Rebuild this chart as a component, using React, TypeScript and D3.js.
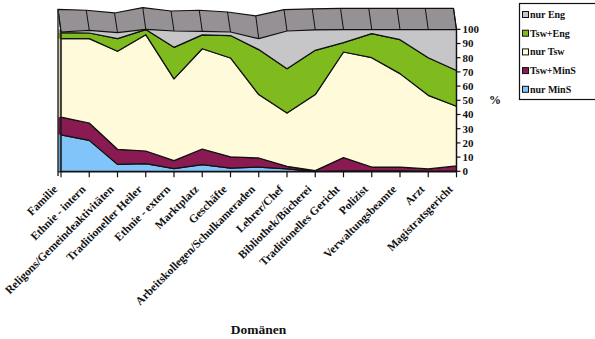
import React from "react";
import * as d3 from "d3";

const categories = [
  "Familie",
  "Ethnie - intern",
  "Religons/Gemeindeaktivitäten",
  "Traditioneller Heiler",
  "Ethnie - extern",
  "Marktplatz",
  "Geschäfte",
  "Arbeitskollegen/Schulkameraden",
  "Lehrer/Chef",
  "Bibliothek/Bücherei",
  "Traditionelles Gericht",
  "Polizist",
  "Verwaltungsbeamte",
  "Arzt",
  "Magistratsgericht",
];

const nurMinS = [25.7, 21.8, 4.9, 5.4, 1.9, 4.7, 2.3, 3.0, 1.7, 0, 0.3, 0.3, 0.3, 0.2, 0.2];
const tswMinS = [12.5, 12.2, 10.6, 8.9, 5.6, 11.0, 7.9, 6.4, 1.8, 0.5, 9.3, 2.7, 2.7, 1.5, 3.6];
const nurTsw = [55.2, 59.4, 69.0, 81.9, 57.6, 70.6, 69.6, 44.6, 37.5, 53.5, 74.4, 77.0, 65.8, 51.8, 42.0];
const tswEng = [4.2, 4.0, 8.9, 3.6, 22.2, 9.8, 15.8, 31.7, 31.3, 31.2, 6.6, 17.0, 23.9, 26.5, 25.2];
const nurEng = [2.4, 2.6, 6.6, 0.2, 12.7, 3.9, 4.4, 14.3, 27.7, 14.8, 9.4, 3.0, 7.3, 20.0, 29.0];

// 3D rim of the stack (top surface), in value units
const rimFront = [98.1, 99.3, 97.7, 100, 98.8, 98.6, 98.1, 93.4, 98.8, 99.6, 99.8, 99.8, 99.8, 99.8, 99.8];
const rimBack = [114.1, 113.4, 111.5, 115.3, 112.9, 113.4, 112.2, 109.4, 113.9, 114.4, 114.8, 114.8, 114.8, 114.8, 114.8];

const yTicks = [0, 10, 20, 30, 40, 50, 60, 70, 80, 90, 100];

const seriesNames = ["nur MinS", "Tsw+MinS", "nur Tsw", "Tsw+Eng", "nur Eng"];
const seriesData = [nurMinS, tswMinS, nurTsw, tswEng, nurEng];
const seriesColors = ["#80C4FA", "#8A1A52", "#FFFADA", "#7FBA1E", "#C6C5C8"];
const legendOrder = [4, 3, 2, 1, 0];

const FONT = "'Liberation Serif', 'Times New Roman', serif";

export default function App() {
  const W = 595;
  const H = 339;
  const x = d3.scalePoint<string>().domain(categories).range([61, 456.5]);
  const y = d3.scaleLinear().domain([0, 100]).range([171.3, 29.3]);

  const rows = categories.map((c, i) => {
    const r: any = { cat: c };
    seriesNames.forEach((s, k) => (r[s] = seriesData[k][i]));
    return r;
  });
  const stacked = d3.stack<any>().keys(seriesNames)(rows);
  const area = d3
    .area<any>()
    .x((d) => x(d.data.cat)!)
    .y0((d) => y(d[0]))
    .y1((d) => y(d[1]));

  const depthX = -3;
  const front = categories.map((c, i) => [x(c)!, y(rimFront[i])] as [number, number]);
  const back = categories.map((c, i) => [x(c)! + depthX, y(rimBack[i])] as [number, number]);
  const rimPath =
    "M" +
    back.map((p) => p.join(",")).join("L") +
    "L" +
    front
      .slice()
      .reverse()
      .map((p) => p.join(","))
      .join("L") +
    "Z";

  const x0 = x(categories[0])!;
  const xN = x(categories[categories.length - 1])!;

  return (
    <svg width={W} height={H} style={{ display: "block", position: "absolute", left: 0, top: 0 }}>
      <rect x={0} y={0} width={W} height={H} fill="#fff" />
      {stacked.map((s, k) => (
        <rect
          key={"lf" + k}
          x={x0 + depthX}
          y={y(s[0][1])}
          width={-depthX}
          height={Math.max(0, y(s[0][0]) - y(s[0][1]))}
          fill={d3.color(seriesColors[k])!.darker(0.6).toString()}
        />
      ))}
      {stacked.map((s, k) => (
        <path
          key={"a" + k}
          d={area(s) || ""}
          fill={seriesColors[k]}
          stroke="#111"
          strokeWidth={1.2}
          strokeLinejoin="round"
        />
      ))}
      <path d={rimPath} fill="#969195" stroke="#111" strokeWidth={1.2} strokeLinejoin="round" />
      {categories.map((c, i) => (
        <line
          key={"rv" + i}
          x1={back[i][0]}
          y1={back[i][1]}
          x2={front[i][0]}
          y2={front[i][1]}
          stroke="#111"
          strokeWidth={1}
        />
      ))}
      <line x1={x0 + depthX} y1={y(rimBack[0])} x2={x0 + depthX} y2={176} stroke="#333" strokeWidth={1.5} />
      <line x1={x0} y1={y(rimFront[0])} x2={x0} y2={y(0)} stroke="#222" strokeWidth={1} />
      <line x1={x0 + depthX} y1={y(0) + 0.5} x2={xN} y2={y(0) + 0.5} stroke="#111" strokeWidth={1.3} />
      {categories.map((c, i) => (
        <line key={"xt" + i} x1={x(c)!} y1={y(0)} x2={x(c)!} y2={y(0) + 6} stroke="#111" strokeWidth={1.2} />
      ))}
      {categories.map((c, i) => (
        <text
          key={"xl" + i}
          transform={`translate(${x(c)! - 3},${190}) rotate(-45)`}
          textAnchor="end"
          fontFamily={FONT}
          fontWeight="bold"
          fontSize={11.5}
          fill="#111"
        >
          {c}
        </text>
      ))}
      <line x1={xN} y1={y(100)} x2={xN} y2={y(0) + 0.5} stroke="#111" strokeWidth={1.3} />
      {yTicks.map((t) => (
        <g key={"yt" + t}>
          <line x1={xN} y1={y(t)} x2={xN + 4} y2={y(t)} stroke="#111" strokeWidth={1.2} />
          <text
            x={xN + 6}
            y={y(t)}
            dy="0.35em"
            fontFamily={FONT}
            fontWeight="bold"
            fontSize={11}
            fill="#111"
          >
            {t}
          </text>
        </g>
      ))}
      <text x={489} y={104} fontFamily={FONT} fontWeight="bold" fontSize={12} fill="#111">
        %
      </text>
      <text x={258.5} y={334} textAnchor="middle" fontFamily={FONT} fontWeight="bold" fontSize={13.5} fill="#111">
        Domänen
      </text>
      <rect x={519.5} y={3.5} width={82} height={96} fill="#fff" stroke="#111" strokeWidth={1.2} />
      {legendOrder.map((k, j) => {
        const cy = 14.5 + j * 18.7;
        return (
          <g key={"lg" + k}>
            <rect x={522.5} y={cy - 3} width={6} height={6} fill={seriesColors[k]} stroke="#111" strokeWidth={1} />
            <text
              x={530}
              y={cy}
              dy="0.35em"
              fontFamily={FONT}
              fontWeight="bold"
              fontSize={10}
              fill="#111"
            >
              {seriesNames[k]}
            </text>
          </g>
        );
      })}
    </svg>
  );
}
